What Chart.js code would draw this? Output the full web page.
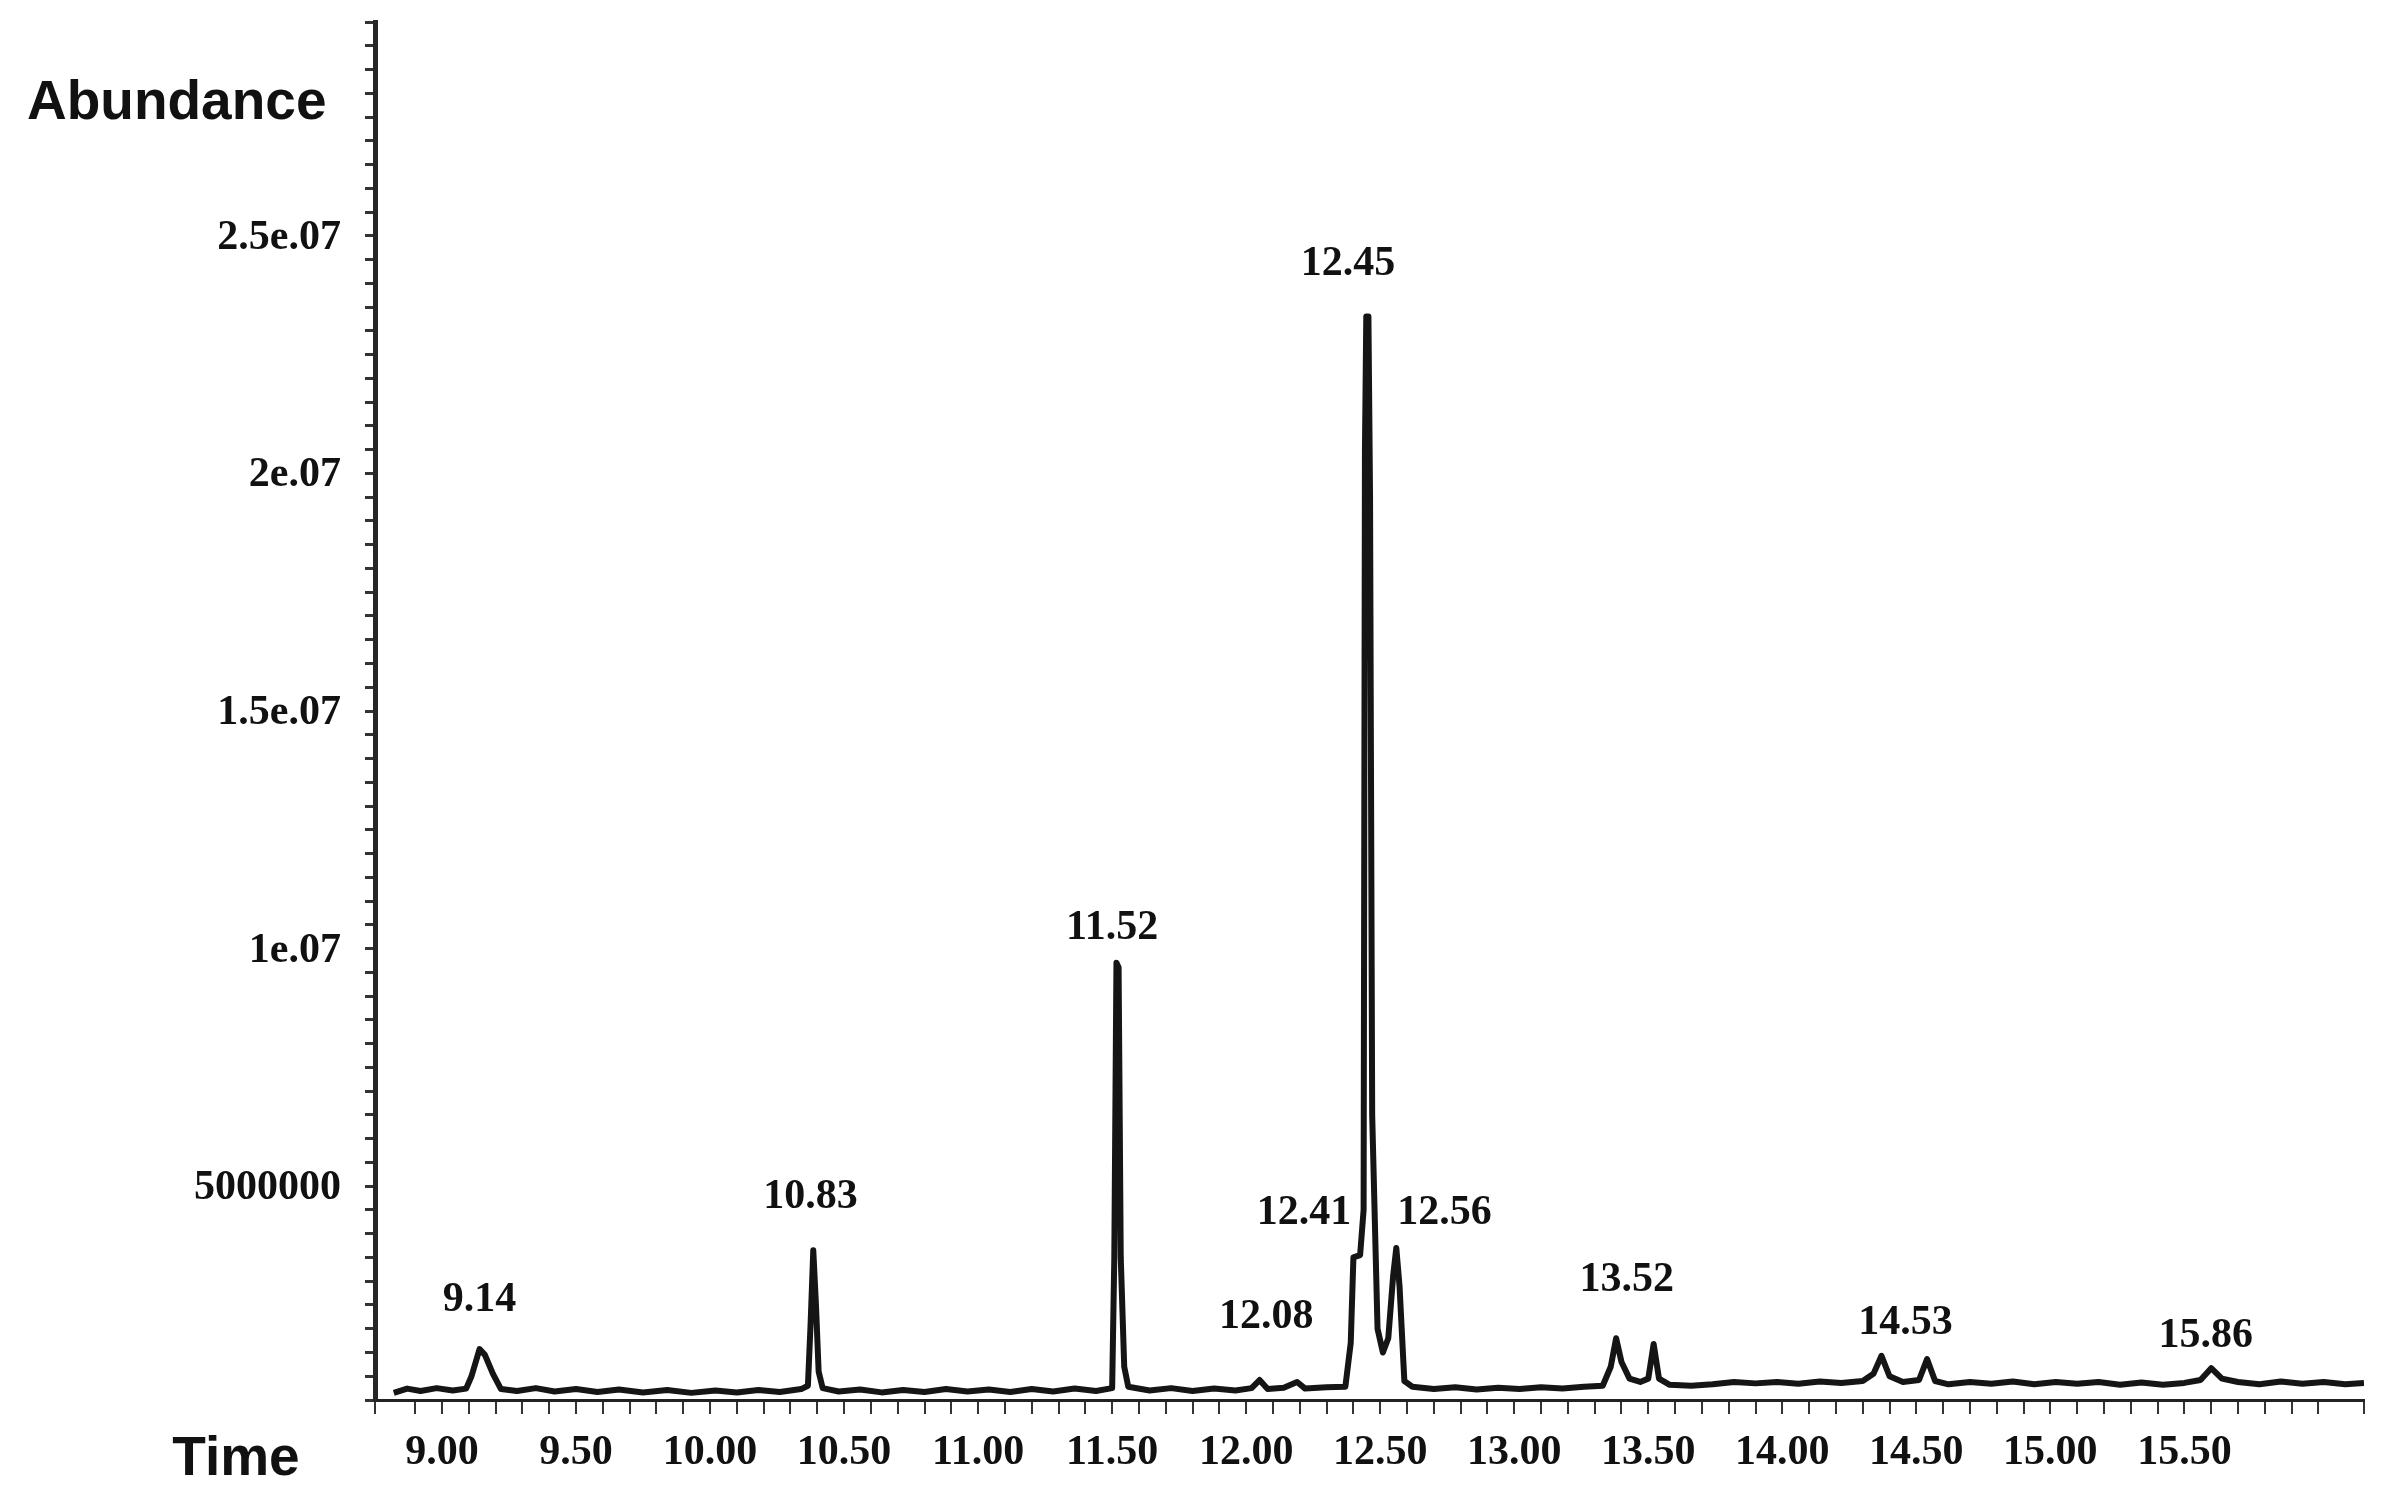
<!DOCTYPE html>
<html>
<head>
<meta charset="utf-8">
<title>Chromatogram</title>
<script src="https://cdn.jsdelivr.net/npm/chart.js@4.4.1/dist/chart.umd.min.js"></script>
<style>
    html, body { margin: 0; padding: 0; background: #ffffff; }
    #wrap { width: 2384px; height: 1509px; }
</style>
</head>
<body>
<div id="wrap"><canvas id="chart" width="2384" height="1509"></canvas></div>
<script>
// Retention time (min) and abundance
const times = [
    8.82, 8.87, 8.92, 8.98, 9.04, 9.09, 9.11, 9.14, 9.16, 9.19, 9.22, 9.28, 9.35, 9.42, 9.50,
    9.58, 9.66, 9.75, 9.84, 9.93, 10.02, 10.10, 10.18, 10.26, 10.34, 10.365, 10.375, 10.385,
    10.395, 10.405, 10.42, 10.48, 10.56, 10.64, 10.72, 10.80, 10.88, 10.96, 11.04, 11.12,
    11.20, 11.28, 11.36, 11.44, 11.50, 11.508, 11.516, 11.524, 11.532, 11.545, 11.56, 11.64,
    11.72, 11.80, 11.88, 11.96, 12.02, 12.05, 12.08, 12.14, 12.19, 12.22, 12.30, 12.37,
    12.39, 12.40, 12.425, 12.438, 12.443, 12.448, 12.456, 12.462, 12.47, 12.49, 12.51, 12.53,
    12.548, 12.56, 12.572, 12.59, 12.62, 12.70, 12.78, 12.86, 12.94, 13.02, 13.10, 13.18,
    13.26, 13.33, 13.36, 13.38, 13.40, 13.43, 13.47, 13.50, 13.52, 13.54, 13.58, 13.66,
    13.74, 13.82, 13.90, 13.98, 14.06, 14.14, 14.22, 14.30, 14.34, 14.37, 14.40, 14.45,
    14.51, 14.54, 14.57, 14.62, 14.70, 14.78, 14.86, 14.94, 15.02, 15.10, 15.18, 15.26,
    15.34, 15.42, 15.50, 15.56, 15.60, 15.64, 15.70, 15.78, 15.86, 15.94, 16.02, 16.10, 16.17
];
const abundance = [
    150000, 240000, 190000, 250000, 200000, 240000, 500000, 1070000, 950000, 550000, 230000, 190000, 250000, 180000, 230000,
    170000, 220000, 160000, 210000, 150000, 200000, 160000, 210000, 170000, 230000, 300000, 1600000, 3150000,
    2000000, 600000, 250000, 180000, 220000, 160000, 210000, 170000, 230000, 180000, 220000, 170000,
    230000, 180000, 240000, 190000, 250000, 3000000, 9200000, 9100000, 3000000, 700000, 280000, 200000,
    250000, 190000, 240000, 200000, 250000, 420000, 230000, 260000, 380000, 240000, 270000, 280000,
    1200000, 3000000, 3050000, 4000000, 20000000, 22800000, 22800000, 19000000, 6000000, 1500000, 1000000, 1300000,
    2600000, 3200000, 2400000, 400000, 280000, 230000, 270000, 220000, 260000, 230000, 270000, 240000,
    280000, 300000, 700000, 1300000, 800000, 450000, 380000, 450000, 1180000, 450000, 320000, 300000,
    330000, 380000, 350000, 380000, 340000, 390000, 360000, 400000, 550000, 930000, 500000, 380000,
    420000, 860000, 400000, 330000, 380000, 340000, 390000, 330000, 380000, 340000, 380000, 320000,
    370000, 320000, 360000, 420000, 670000, 450000, 380000, 330000, 390000, 340000, 380000, 330000, 360000
];

// Peak annotations: text, time and abundance of the label centre
const peakLabels = ['9.14', '10.83', '11.52', '12.08', '12.41', '12.45', '12.56', '13.52', '14.53', '15.86'];
const peakLabelTimes = [9.14, 10.375, 11.50, 12.075, 12.216, 12.38, 12.74, 13.42, 14.46, 15.58];
const peakLabelValues = [2100000, 4270000, 9920000, 1750000, 3940000, 23900000, 3940000, 2530000, 1620000, 1350000];

// Y axis tick labels as printed
const yTickValues = [5000000, 10000000, 15000000, 20000000, 25000000];
const yTickLabels = ['5000000', '1e.07', '1.5e.07', '2e.07', '2.5e.07'];

// X axis labelled ticks
const xFirstLabel = 9.0;
const xLastLabel = 15.5;

const points = times.map((t, i) => ({ x: t, y: abundance[i] }));

const numberFont = { family: 'Liberation Serif', weight: 'bold', size: 42 };

// Draws peak labels at their data position
const peakLabelPlugin = {
    id: 'peakLabels',
    afterDatasetsDraw(chart) {
        const ctx = chart.ctx;
        const xs = chart.scales.x;
        const ys = chart.scales.y;
        ctx.save();
        ctx.fillStyle = '#111111';
        ctx.font = 'bold 42px "Liberation Serif"';
        ctx.textAlign = 'center';
        ctx.textBaseline = 'middle';
        peakLabels.forEach((label, i) => {
            ctx.fillText(label, xs.getPixelForValue(peakLabelTimes[i]), ys.getPixelForValue(peakLabelValues[i]));
        });
        ctx.restore();
    }
};

// Axis names sit at the top-left and bottom-left corners
const axisNamePlugin = {
    id: 'axisNames',
    afterDraw(chart) {
        const ctx = chart.ctx;
        ctx.save();
        ctx.fillStyle = '#111111';
        ctx.font = 'bold 55px "Liberation Sans"';
        ctx.textBaseline = 'middle';
        ctx.textAlign = 'left';
        ctx.fillText('Abundance', 27, 104);
        ctx.textAlign = 'center';
        ctx.fillText('Time', 236, 1460);
        ctx.restore();
    }
};

new Chart(document.getElementById('chart'), {
    type: 'line',
    data: {
        datasets: [{
            label: 'TIC',
            data: points,
            borderColor: '#151515',
            borderWidth: 6,
            borderJoinStyle: 'round',
            pointRadius: 0,
            tension: 0,
            fill: false
        }]
    },
    options: {
        responsive: false,
        animation: false,
        layout: { padding: { top: 22, right: 20, left: 0, bottom: 0 } },
        plugins: {
            legend: { display: false },
            tooltip: { enabled: false }
        },
        scales: {
            x: {
                type: 'linear',
                min: 8.75,
                max: 16.17,
                afterFit: function (scale) {
                    scale.height = 109;
                    scale.paddingLeft = 0;
                    scale.paddingRight = 0;
                },
                border: { display: true, color: '#222222', width: 3 },
                grid: { drawOnChartArea: false, drawTicks: true, tickLength: 14, color: '#333333', lineWidth: 2 },
                ticks: {
                    stepSize: 0.1,
                    autoSkip: false,
                    maxRotation: 0,
                    padding: 14,
                    color: '#111111',
                    font: numberFont,
                    callback: function (value) {
                        const half = value * 2;
                        if (Math.abs(half - Math.round(half)) < 1e-6 && value >= xFirstLabel - 1e-6 && value <= xLastLabel + 1e-6) {
                            return value.toFixed(2);
                        }
                        return '';
                    }
                }
            },
            y: {
                type: 'linear',
                min: 0,
                max: 29000000, // multiple of stepSize so ticks stay on round values
                afterFit: function (scale) {
                    scale.width = 375;
                    scale.paddingTop = 0;
                    scale.paddingBottom = 0;
                },
                border: { display: true, color: '#262626', width: 5 },
                grid: { drawOnChartArea: false, drawTicks: true, tickLength: 10, color: '#333333', lineWidth: 3 },
                ticks: {
                    stepSize: 500000,
                    autoSkip: false,
                    padding: 24,
                    labelOffset: 26,
                    color: '#111111',
                    font: numberFont,
                    callback: function (value) {
                        const idx = yTickValues.findIndex(v => Math.abs(v - value) < 1);
                        return idx >= 0 ? yTickLabels[idx] : '';
                    }
                }
            }
        }
    },
    plugins: [peakLabelPlugin, axisNamePlugin]
});
</script>
</body>
</html>
